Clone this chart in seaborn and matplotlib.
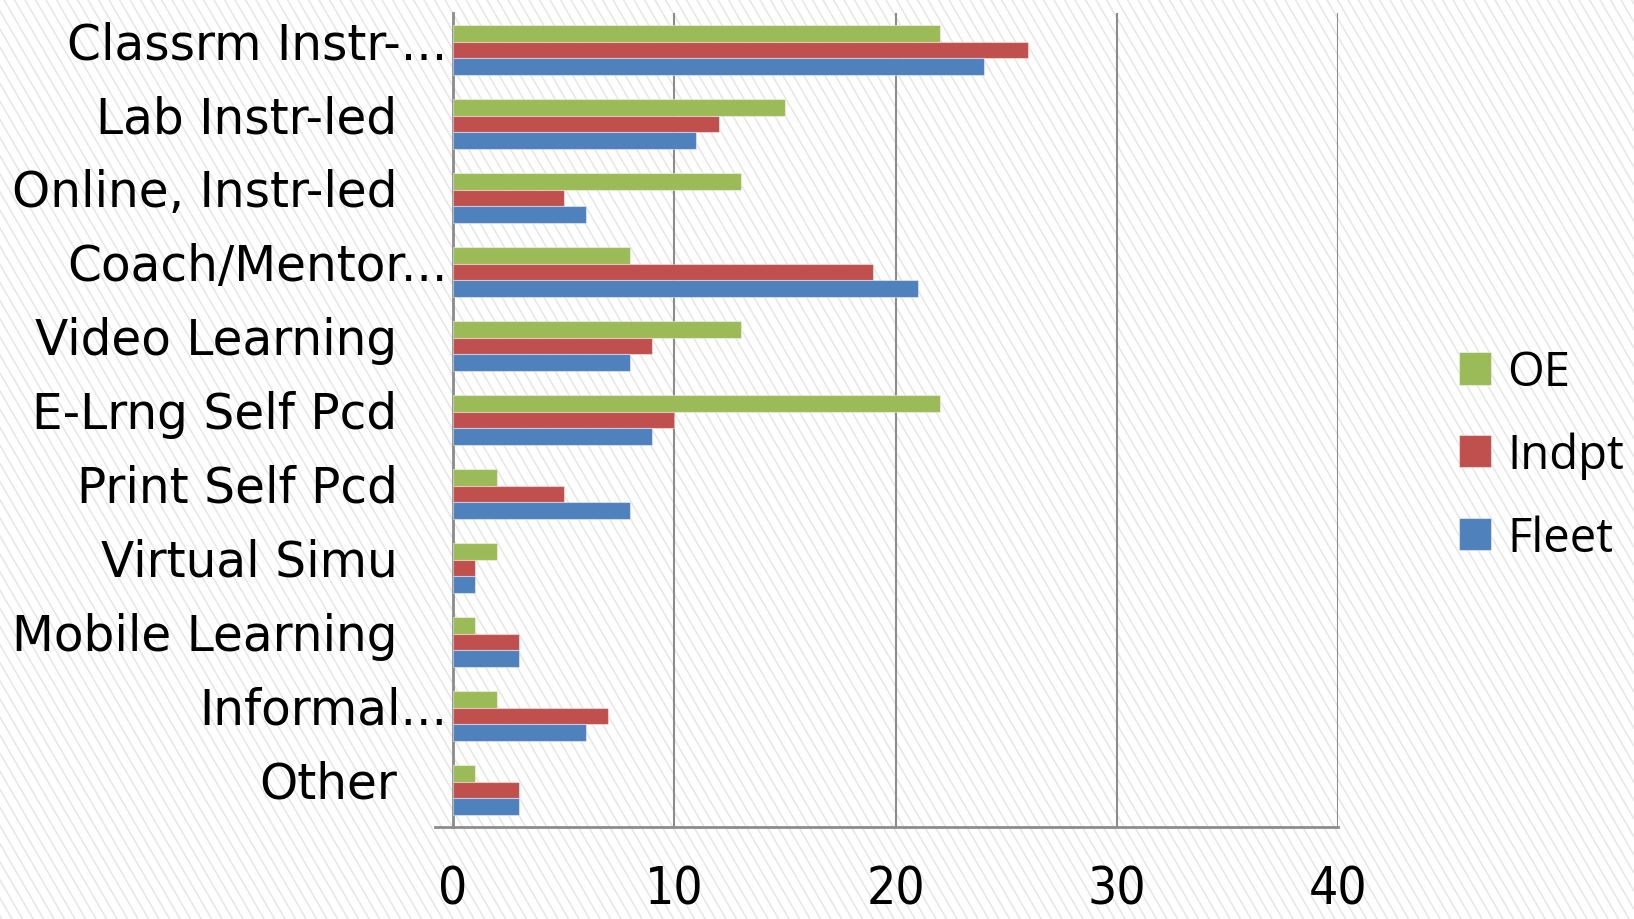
import matplotlib
matplotlib.use("Agg")
import matplotlib.pyplot as plt
import matplotlib.transforms as mtransforms
from matplotlib.collections import LineCollection
import seaborn as sns
import pandas as pd
import numpy as np

categories = ["Classrm Instr-...", "Lab Instr-led", "Online, Instr-led", "Coach/Mentor...",
              "Video Learning", "E-Lrng Self Pcd", "Print Self Pcd", "Virtual Simu",
              "Mobile Learning", "Informal...", "Other"]
series = ["OE", "Indpt", "Fleet"]
oe_values = [22, 15, 13, 8, 13, 22, 2, 2, 1, 2, 1]
indpt_values = [26, 12, 5, 19, 9, 10, 5, 1, 3, 7, 3]
fleet_values = [24, 11, 6, 21, 8, 9, 8, 1, 3, 6, 3]
x_ticks = [0, 10, 20, 30, 40]
colors = {"OE": "#9BBB59", "Indpt": "#C0504D", "Fleet": "#4F81BD"}

df = pd.DataFrame({
    "category": categories * 3,
    "series": ["OE"] * len(categories) + ["Indpt"] * len(categories) + ["Fleet"] * len(categories),
    "value": oe_values + indpt_values + fleet_values,
})

sns.set_style("white")
plt.rcParams["font.family"] = ["DejaVu Sans"]
plt.rcParams["text.color"] = "black"
plt.rcParams["xtick.color"] = "black"
plt.rcParams["ytick.color"] = "black"

W, H = 1634, 920
fig = plt.figure(figsize=(W / 100, H / 100), dpi=100)
fig.patch.set_facecolor("white")

# background diagonal stripes (decoration)
slope = 0.58
segs = []
for x0 in np.arange(-int(slope * H) - 20, W + 20, 10.5):
    segs.append([(x0 / W, 1.0), ((x0 + slope * H) / W, 0.0)])
stripes = LineCollection(segs, colors="#e6e6e6", linewidths=1.1,
                         transform=fig.transFigure, zorder=-10)
fig.add_artist(stripes)

ax = fig.add_axes([453 / W, 1 - 828 / H, (1338 - 453) / W, (828 - 14) / H])
ax.set_facecolor("none")

sns.barplot(data=df, y="category", x="value", hue="series", hue_order=series,
            order=categories, palette=colors, orient="h", width=0.68, saturation=1,
            linewidth=0.8, edgecolor="#ffffff70", ax=ax, legend=True, zorder=3)

ax.set_xlim(0, 40)
ax.set_ylim(len(categories) - 0.5, -0.5)
ax.set_xticks(x_ticks)
ax.set_xticklabels([str(t) for t in x_ticks], fontsize=37, fontstretch="condensed",
                   family="DejaVu Sans")
ax.tick_params(axis="x", length=18, width=1.5, color="#8c8c8c", pad=9, direction="out",
               labelcolor="black")
ax.xaxis.grid(True, color="#8c8c8c", linewidth=1.5, zorder=0)
ax.set_axisbelow(True)

ax.set_yticks(np.arange(len(categories)))
ax.set_yticklabels(categories, fontsize=35)
ax.tick_params(axis="y", which="major", length=0, pad=40, labelcolor="black")
ax.set_yticks(np.arange(len(categories) + 1) - 0.5, minor=True)
ax.tick_params(axis="y", which="minor", length=17, width=1.5, color="#8c8c8c", direction="out")

for lab in ax.get_yticklabels():
    dx = 50 / 100 if lab.get_text().endswith("...") else 0
    lab.set_transform(lab.get_transform() +
                      mtransforms.ScaledTranslation(dx, 11 / 100, fig.dpi_scale_trans))

ax.set_xlabel("")
ax.set_ylabel("")
for side in ["top", "right"]:
    ax.spines[side].set_visible(False)
for side in ["left", "bottom"]:
    ax.spines[side].set_color("#8c8c8c")
    ax.spines[side].set_linewidth(2)
ax.spines["bottom"].set_bounds(-0.8, 40)

handles, labels = ax.get_legend_handles_labels()
leg = ax.legend(handles, labels, loc="center left", bbox_to_anchor=(1440 / W, 1 - 456 / H),
                bbox_transform=fig.transFigure, frameon=False,
                prop={"family": ["Open Sans", "DejaVu Sans"], "size": 34},
                handlelength=0.68, handleheight=0.68, handletextpad=0.35, labelspacing=0.75,
                borderaxespad=0)
for t in leg.get_texts():
    t.set_color("black")

fig.savefig("out.png", dpi=100, facecolor="white")
